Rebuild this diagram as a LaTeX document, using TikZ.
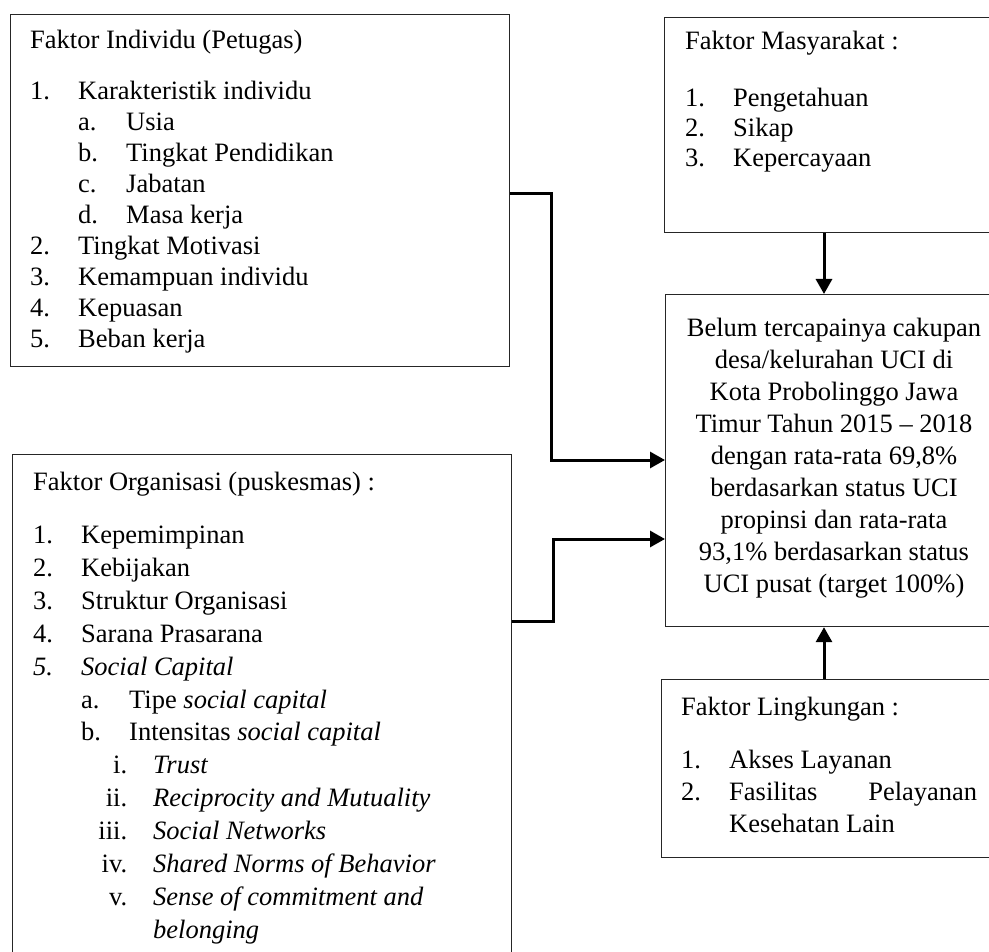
\documentclass[tikz,border=0pt]{standalone}
\usepackage{fontspec}
\setmainfont{Liberation Serif}
\usetikzlibrary{arrows.meta}

\newcommand{\itm}[2]{\makebox[48pt][l]{#1}#2}
\newcommand{\subitm}[2]{\hspace*{48pt}\makebox[48pt][l]{#1}#2}
\newcommand{\romitm}[2]{\hspace*{48pt}\makebox[46pt][r]{#1}\hspace*{26pt}#2}

\tikzset{
	kotak/.style={draw=black!85, line width=1.2pt, inner sep=0pt, anchor=north west},
	teks/.style={inner sep=0pt, anchor=base west, align=left},
	panah/.style={line width=3pt, ->},
}

\begin{document}
\begin{tikzpicture}[x=1pt, y=-1pt, >={Triangle[length=15pt,width=16pt]},
		font=\fontsize{26.5pt}{30.9pt}\selectfont]
				\useasboundingbox (0,0) rectangle (989,952);
				\clip (0,0) rectangle (989,952);

				\node[kotak, minimum width=499pt, minimum height=352pt] (indiv) at (10,14) {};
				\node[kotak, minimum width=499pt, minimum height=506pt] (orgn) at (12,454) {};
				\node[kotak, minimum width=336pt, minimum height=215pt] (masy) at (664,17) {};
				\node[kotak, minimum width=335pt, minimum height=332pt] (masalah) at (665,294) {};
				\node[kotak, minimum width=339pt, minimum height=178pt] (lingk) at (661,679) {};

				\node[teks] (indivJ) at (30,49) {Faktor Individu (Petugas)};
				\node[teks] (indivD) at (30,100) {\begin{tabular}[t]{@{}l@{}}
					\itm{1.}{Karakteristik individu}\\
					\subitm{a.}{Usia}\\
					\subitm{b.}{Tingkat Pendidikan}\\
					\subitm{c.}{Jabatan}\\
					\subitm{d.}{Masa kerja}\\
					\itm{2.}{Tingkat Motivasi}\\
					\itm{3.}{Kemampuan individu}\\
					\itm{4.}{Kepuasan}\\
					\itm{5.}{Beban kerja}
				\end{tabular}};

				\node[teks] (orgnJ) at (33,490) {Faktor Organisasi (puskesmas) :};
				\node[teks, font=\fontsize{26.5pt}{33pt}\selectfont] (orgnD) at (33,543) {\begin{tabular}[t]{@{}l@{}}
					\itm{1.}{Kepemimpinan}\\
					\itm{2.}{Kebijakan}\\
					\itm{3.}{Struktur Organisasi}\\
					\itm{4.}{Sarana Prasarana}\\
					\itm{\textit{5.}}{\textit{Social Capital}}\\
					\subitm{a.}{Tipe \textit{social capital}}\\
					\subitm{b.}{Intensitas \textit{social capital}}\\
					\romitm{i.}{\textit{Trust}}\\
					\romitm{ii.}{\textit{Reciprocity and Mutuality}}\\
					\romitm{iii.}{\textit{Social Networks}}\\
					\romitm{iv.}{\textit{Shared Norms of Behavior}}\\
					\romitm{v.}{\textit{Sense of commitment and}}\\
					\romitm{}{\textit{belonging}}
				\end{tabular}};

				\node[teks] (masyJ) at (685,50) {Faktor Masyarakat :};
				\node[teks, font=\fontsize{26.5pt}{30pt}\selectfont] (masyD) at (685,107) {\begin{tabular}[t]{@{}l@{}}
					\itm{1.}{Pengetahuan}\\
					\itm{2.}{Sikap}\\
					\itm{3.}{Kepercayaan}
				\end{tabular}};

				\node[teks, anchor=base, font=\fontsize{26.5pt}{32pt}\selectfont] (masalahT) at (834,337) {\begin{tabular}[t]{@{}c@{}}
					Belum tercapainya cakupan\\
					desa/kelurahan UCI di\\
					Kota Probolinggo Jawa\\
					Timur Tahun 2015 -- 2018\\
					dengan rata-rata 69,8\%\\
					berdasarkan status UCI\\
					propinsi dan rata-rata\\
					93,1\% berdasarkan status\\
					UCI pusat (target 100\%)
				\end{tabular}};

				\node[teks] (lingkJ) at (681,715) {Faktor Lingkungan :};
				\node[teks, font=\fontsize{26.5pt}{32pt}\selectfont] (lingkD) at (681,768) {\begin{tabular}[t]{@{}l@{}}
					\itm{1.}{Akses Layanan}\\
					\itm{2.}{\hbox to 248pt{Fasilitas\hfill Pelayanan}}\\
					\itm{}{Kesehatan Lain}
				\end{tabular}};

				\coordinate (sumbu) at (824,0);
				\coordinate (belokA) at (551,460);
				\coordinate (belokB) at (553,539);

				\draw[panah] ([yshift=-3pt]indiv.east) -| (belokA) -- (belokA -| masalah.west);
				\draw[panah] ([yshift=86pt]orgn.east) -| (belokB) -- (belokB -| masalah.west);
				\draw[panah] (masy.south -| sumbu) -- (masalah.north -| sumbu);
				\draw[panah] (lingk.north -| sumbu) -- (masalah.south -| sumbu);

			\end{tikzpicture}
\end{document}
